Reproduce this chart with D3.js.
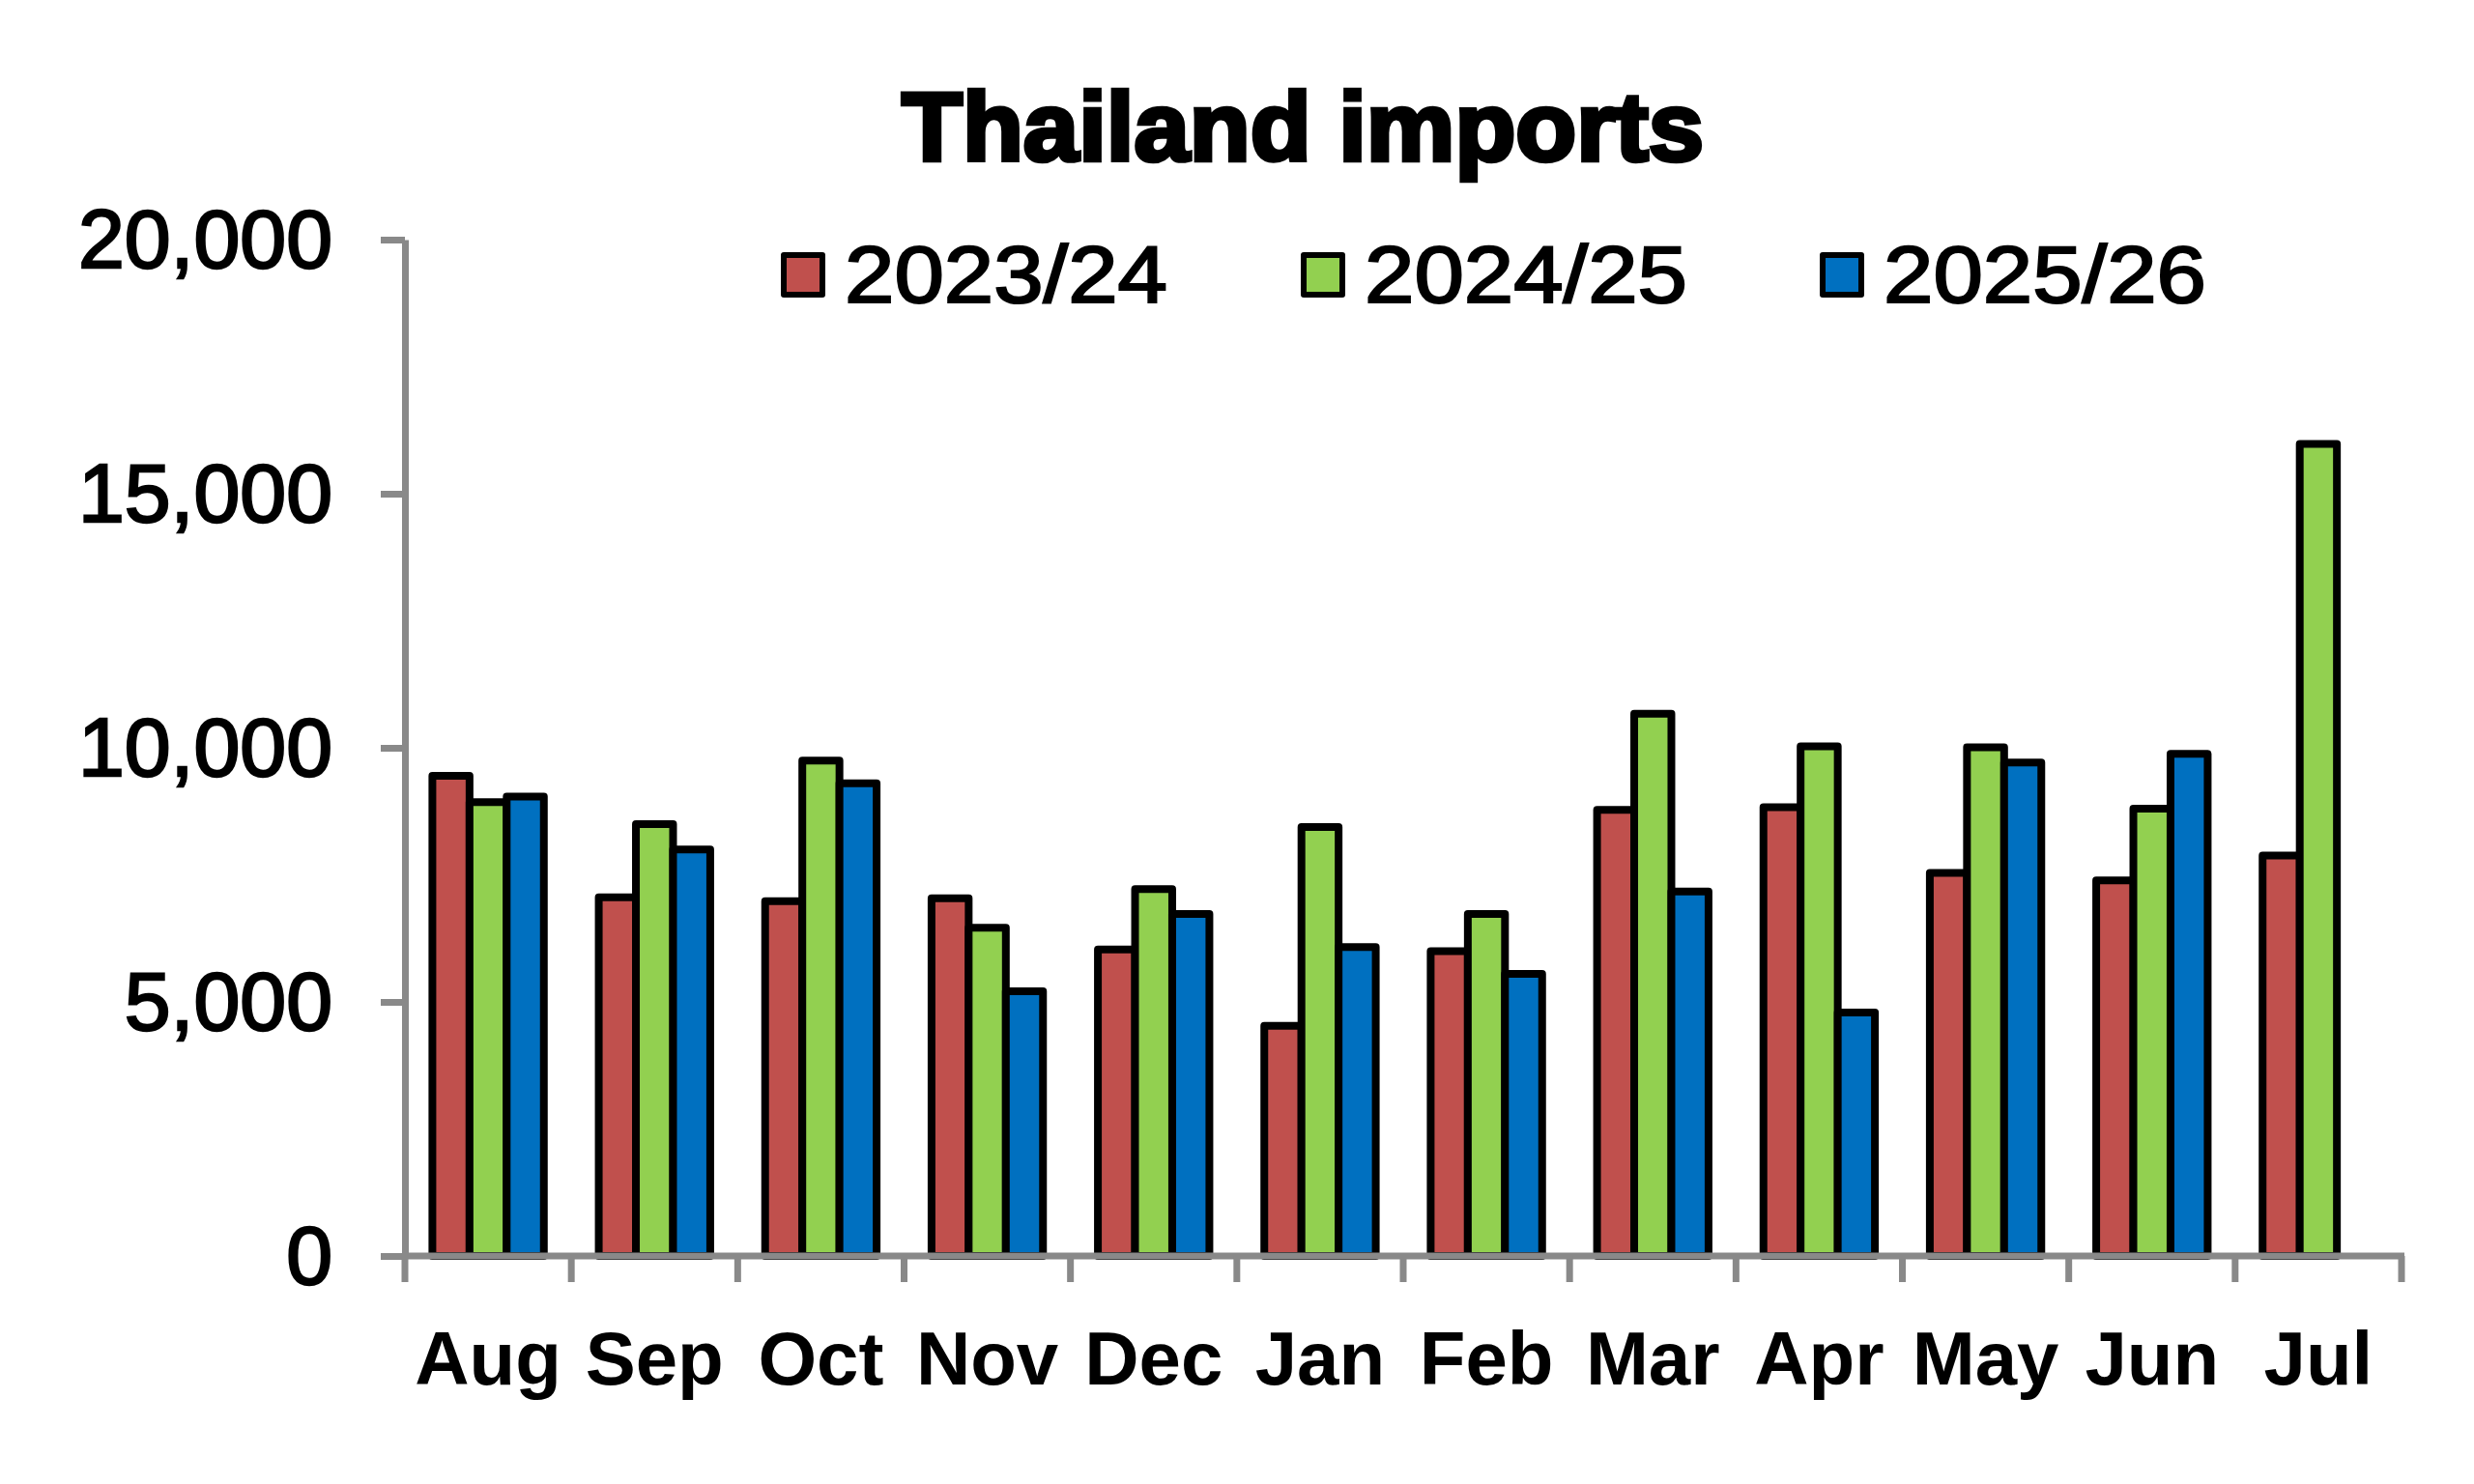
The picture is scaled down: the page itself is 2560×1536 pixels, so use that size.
<!DOCTYPE html>
<html>
<head>
<meta charset="utf-8">
<script src="https://cdn.jsdelivr.net/npm/d3@7"></script>
<style>
  html, body { margin: 0; padding: 0; background: #ffffff; }
  svg { display: block; }
</style>
</head>
<body>
<svg id="chart" width="2560" height="1536"></svg>
<script>
// ---- Data ----
const months = ["Aug", "Sep", "Oct", "Nov", "Dec", "Jan", "Feb", "Mar", "Apr", "May", "Jun", "Jul"];
const seriesNames = ["2023/24", "2024/25", "2025/26"];
const values2023_24 = [9450, 7060, 6980, 7040, 6030, 4530, 6000, 8780, 8830, 7540, 7390, 7880];
const values2024_25 = [8930, 8500, 9750, 6460, 7220, 8440, 6730, 10670, 10030, 10010, 8800, 15980];
const values2025_26 = [9040, 8000, 9300, 5210, 6730, 6080, 5550, 7170, 4790, 9710, 9880, null];
const yTickValues = [0, 5000, 10000, 15000, 20000];
const titleText = "Thailand imports";

// ---- Styles ----
const seriesColors = ["#C0504D", "#92D050", "#0070C0"];
const axisGray = "#898989";
const allValues = [values2023_24, values2024_25, values2025_26];

const svg = d3.select("#chart");

const plotLeft = 419, plotRight = 2485, plotTop = 248, plotBottom = 1300;

const y = d3.scaleLinear().domain([0, 20000]).range([plotBottom, plotTop]);
const x0 = d3.scaleBand().domain(months).range([plotLeft, plotRight])
  .paddingInner(0.33).paddingOuter(0.165);
const x1 = d3.scaleBand().domain(seriesNames).range([0, x0.bandwidth()]);

// ---- Bars ----
const barData = [];
months.forEach((m, i) => {
  seriesNames.forEach((s, j) => {
    const v = allValues[j][i];
    if (v !== null && v !== undefined) barData.push({ m, s, v, j });
  });
});

svg.append("g").selectAll("rect").data(barData).join("rect")
  .attr("x", d => x0(d.m) + x1(d.s))
  .attr("y", d => y(d.v))
  .attr("width", x1.bandwidth())
  .attr("height", d => y(0) - y(d.v))
  .attr("fill", d => seriesColors[d.j])
  .attr("stroke", "#000")
  .attr("stroke-width", 8)
  .attr("stroke-linejoin", "round");

// ---- Y axis ----
const yAxis = d3.axisLeft(y).tickValues(yTickValues).tickSize(25).tickSizeOuter(0)
  .tickPadding(50).tickFormat(d3.format(","));
const gy = svg.append("g").attr("transform", `translate(${plotLeft},0)`).call(yAxis);
gy.select(".domain").attr("stroke", axisGray).attr("stroke-width", 7);
gy.selectAll(".tick line").attr("stroke", axisGray).attr("stroke-width", 7);
gy.selectAll(".tick text")
  .attr("font-family", "'Liberation Sans', Arial, sans-serif")
  .attr("font-size", 86)
  .attr("fill", "#000")
  .attr("stroke", "#000")
  .attr("stroke-width", 2.4)
  .attr("dy", "0.33em");

// ---- X axis ----
const boundaries = d3.range(months.length + 1).map(i => plotLeft + i * x0.step());
const gx = svg.append("g");
gx.append("line")
  .attr("x1", plotLeft - 3).attr("x2", plotRight + 3)
  .attr("y1", plotBottom).attr("y2", plotBottom)
  .attr("stroke", axisGray).attr("stroke-width", 7);
gx.selectAll("line.btick").data(boundaries).join("line")
  .attr("class", "btick")
  .attr("x1", d => d).attr("x2", d => d)
  .attr("y1", plotBottom).attr("y2", plotBottom + 27)
  .attr("stroke", axisGray).attr("stroke-width", 7);
gx.selectAll("text").data(months).join("text")
  .attr("x", d => x0(d) + x0.bandwidth() / 2)
  .attr("y", 1433)
  .attr("text-anchor", "middle")
  .attr("font-family", "'Liberation Sans', Arial, sans-serif")
  .attr("font-weight", "bold")
  .attr("font-size", 78)
  .attr("fill", "#000")
  .text(d => d);

// ---- Title ----
svg.append("text")
  .attr("x", 1348).attr("y", 166)
  .attr("text-anchor", "middle")
  .attr("font-family", "'Liberation Sans', Arial, sans-serif")
  .attr("font-weight", "bold")
  .attr("font-size", 100)
  .attr("fill", "#000")
  .attr("stroke", "#000")
  .attr("stroke-width", 4.5)
  .attr("textLength", 830)
  .attr("lengthAdjust", "spacingAndGlyphs")
  .text(titleText);

// ---- Legend ----
const legendX = [808, 1346, 1883];
const legend = svg.append("g");
seriesNames.forEach((s, j) => {
  legend.append("rect")
    .attr("x", legendX[j] + 3).attr("y", 264)
    .attr("width", 40).attr("height", 41)
    .attr("fill", seriesColors[j])
    .attr("stroke", "#000").attr("stroke-width", 6)
    .attr("stroke-linejoin", "round");
  legend.append("text")
    .attr("x", legendX[j] + 66).attr("y", 313)
    .attr("font-family", "'Liberation Sans', Arial, sans-serif")
    .attr("font-size", 84)
    .attr("fill", "#000")
    .attr("stroke", "#000").attr("stroke-width", 2.2)
    .attr("textLength", 334)
    .attr("lengthAdjust", "spacingAndGlyphs")
    .text(s);
});
</script>
</body>
</html>
